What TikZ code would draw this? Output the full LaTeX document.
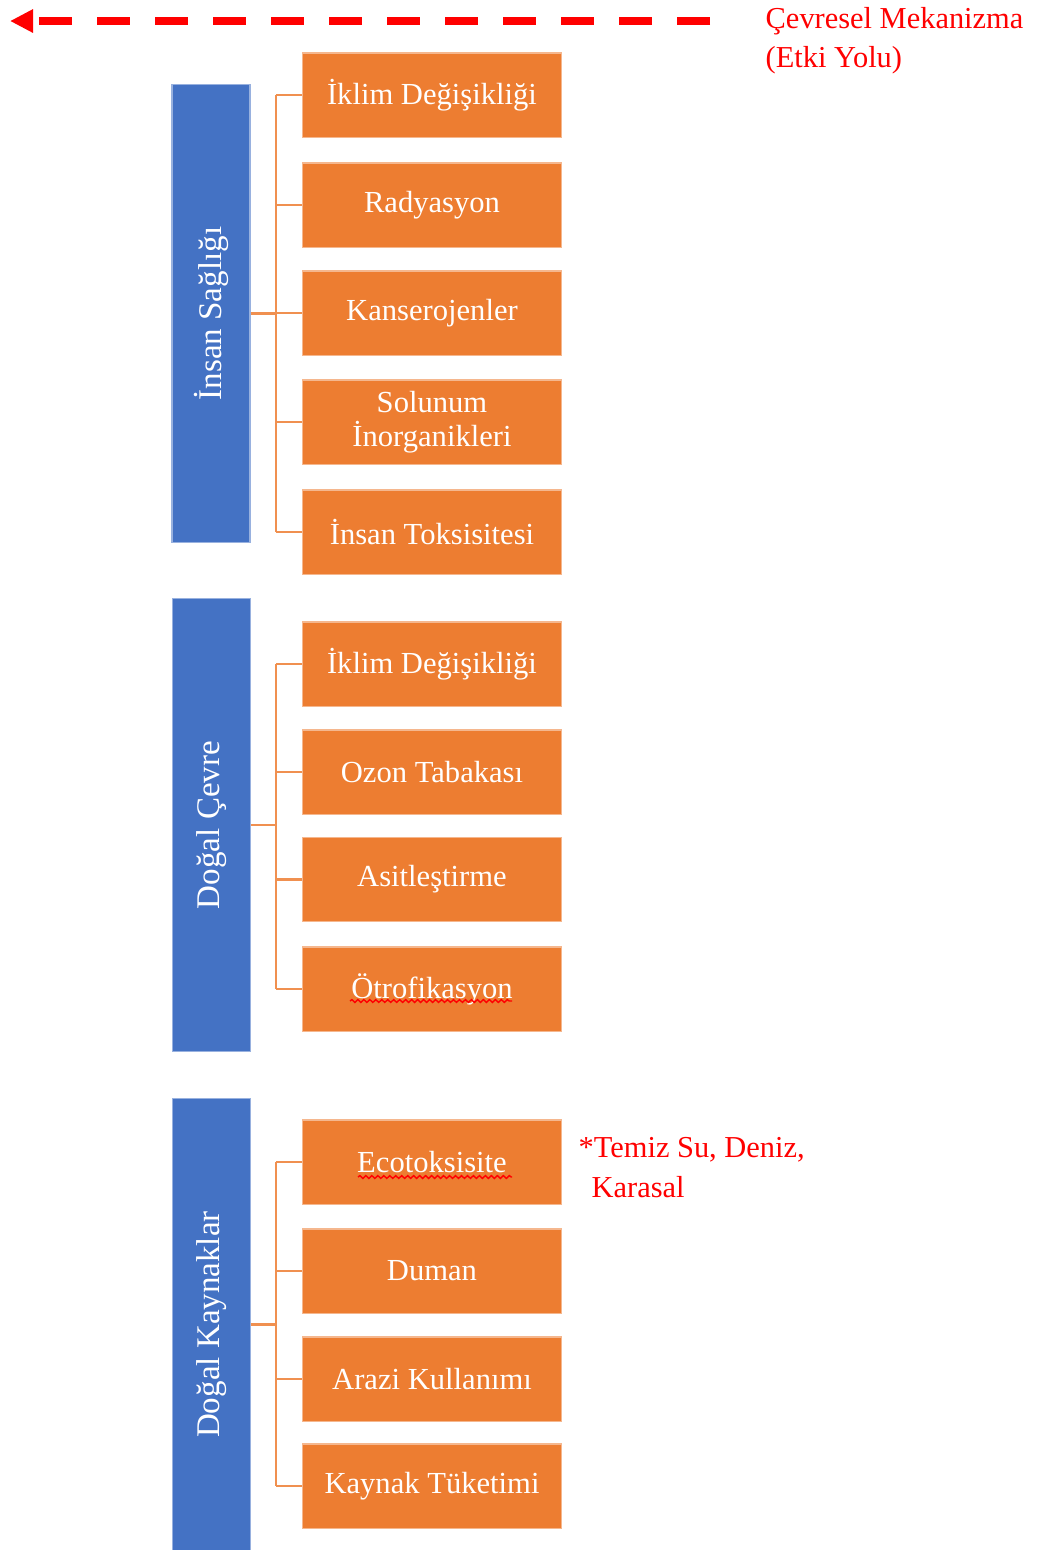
\documentclass[tikz,border=0pt]{standalone}
\usepackage{fontspec}
\setmainfont{Liberation Serif}
\usetikzlibrary{arrows.meta,decorations.pathmorphing}
\definecolor{turuncu}{HTML}{ED7D31}
\definecolor{mavi}{HTML}{4472C4}
\tikzset{
  etki/.style={rectangle, fill=turuncu, draw=turuncu!55!white, line width=0.3pt, text=white,
    minimum width=2.58cm, minimum height=0.84cm, inner sep=0pt, align=center,
    font=\fontsize{8.7}{9.8}\selectfont},
  kategori/.style={rectangle, fill=mavi, draw=mavi!55!white, line width=0.3pt, text=white,
    rotate=90, minimum height=0.78cm, inner sep=0pt, font=\fontsize{9.4}{11}\selectfont},
  baglanti/.style={draw=turuncu!85!white, line width=0.6pt},
  kirmizi/.style={text=red, font=\fontsize{8.65}{11}\selectfont, inner sep=0pt, anchor=base west},
  imla/.style={draw=red, line width=0.4pt, decorate, decoration={snake, amplitude=0.4pt, segment length=1.7pt}}
}
\begin{document}
\begin{tikzpicture}[x=0.01cm, y=-0.01cm]
\useasboundingbox (0,0) rectangle (1041,1550);
\coordinate (okson) at (710,21);
\coordinate (okbas) at (10,21);
\draw [red, line width=2.5pt, dash pattern=on 9.4pt off 7.1pt, -{Triangle[length=0.23cm,width=0.22cm]}] (okson) -- (okbas);
\node[kirmizi] (mekanizma) at (765,28) {Çevresel Mekanizma};
\node[kirmizi] (etkiyolu) at (765,67) {(Etki Yolu)};

\node[kategori, minimum width=4.57cm] (saglik) at (211,313.5) {İnsan Sağlığı};
\node[etki] (s1) at (432,95) {İklim Değişikliği};
\node[etki] (s2) at (432,205) {Radyasyon};
\node[etki] (s3) at (432,313) {Kanserojenler};
\node[etki] (s4) at (432,422) {Solunum\\İnorganikleri};
\node[etki] (s5) at (432,532) {İnsan Toksisitesi};
\coordinate (k1) at (276,313.5);
\draw[baglanti] (saglik.south) -- (k1);
\draw[baglanti] (k1 |- s1) -- (k1 |- s5);
\foreach \i in {1,...,5} \draw[baglanti] (k1 |- s\i) -- (s\i);

\node[kategori, minimum width=4.52cm] (cevre) at (211.5,825) {Doğal Çevre};
\node[etki] (c1) at (432,664) {İklim Değişikliği};
\node[etki] (c2) at (432,772) {Ozon Tabakası};
\node[etki] (c3) at (432,879.5) {Asitleştirme};
\node[etki] (c4) at (432,989) {Ötrofikasyon};
\coordinate (k2) at (276,825);
\draw[baglanti] (cevre.south) -- (k2);
\draw[baglanti] (k2 |- c1) -- (k2 |- c4);
\foreach \i in {1,...,4} \draw[baglanti] (k2 |- c\i) -- (c\i);
\draw[imla] (350,1001) -- (512,1001);

\node[kategori, minimum width=4.51cm] (kaynak) at (211.5,1324.5) {Doğal Kaynaklar};
\node[etki] (d1) at (432,1162) {Ecotoksisite};
\node[etki] (d2) at (432,1271) {Duman};
\node[etki] (d3) at (432,1379) {Arazi Kullanımı};
\node[etki] (d4) at (432,1486) {Kaynak Tüketimi};
\coordinate (k3) at (276,1324.5);
\draw[baglanti] (kaynak.south) -- (k3);
\draw[baglanti] (k3 |- d1) -- (k3 |- d4);
\foreach \i in {1,...,4} \draw[baglanti] (k3 |- d\i) -- (d\i);
\draw[imla] (358,1177) -- (512,1177);

\node[kirmizi] (not1) at (578,1157) {*Temiz Su, Deniz,};
\node[kirmizi] (not2) at (591,1197) {Karasal};
\end{tikzpicture}
\end{document}
